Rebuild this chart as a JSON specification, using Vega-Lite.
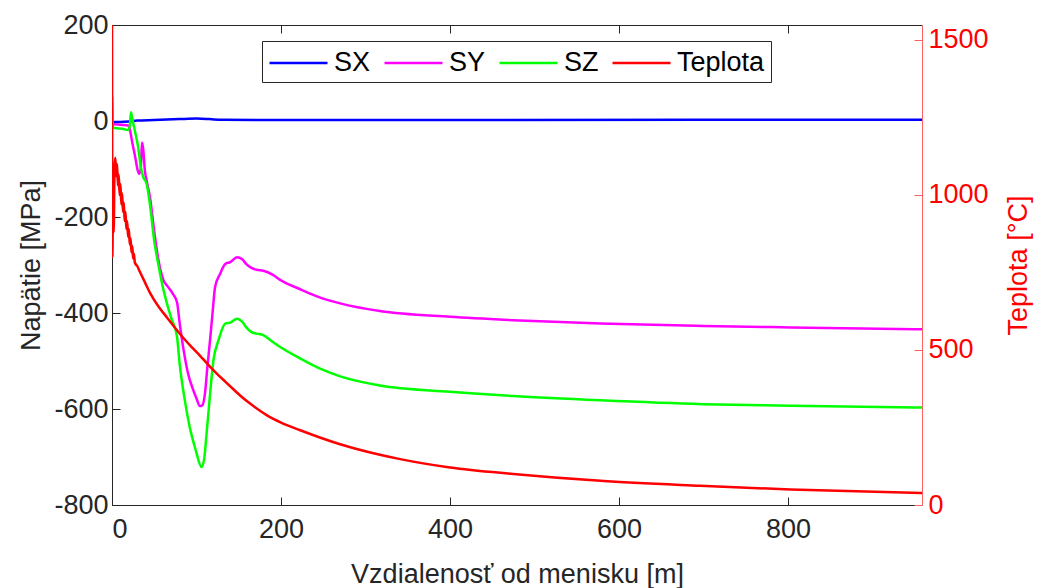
{
  "$schema": "https://vega.github.io/schema/vega-lite/v6.json",
  "width": 810,
  "height": 480,
  "autosize": {"type": "none"},
  "padding": {"left": 112, "top": 25, "right": 116, "bottom": 83},
  "background": "white",
  "config": {
    "view": {"stroke": null},
    "font": "Liberation Sans",
    "axis": {
      "labelFont": "Liberation Sans",
      "titleFont": "Liberation Sans",
      "labelFontSize": 27,
      "titleFontSize": 27,
      "titleFontWeight": "normal",
      "grid": false,
      "domainWidth": 1,
      "tickWidth": 1,
      "labelExpr": "'' + datum.value"
    },
    "legend": {
      "orient": "none",
      "legendX": 150,
      "legendY": 16,
      "direction": "horizontal",
      "columns": 4,
      "symbolType": "M-1,0H3",
      "symbolSize": 841,
      "symbolStrokeWidth": 2.5,
      "labelFont": "Liberation Sans",
      "labelFontSize": 27,
      "labelColor": "#000000",
      "labelOffset": 34,
      "columnPadding": 8,
      "padding": 6,
      "strokeColor": "#262626",
      "fillColor": "white"
    }
  },
  "datasets": {
    "stress": [
      {"s":"SX","x":0,"v":0},{"s":"SX","x":2,"v":-2},{"s":"SX","x":10,"v":-2},{"s":"SX","x":20,"v":-1},{"s":"SX","x":30,"v":1},{"s":"SX","x":50,"v":2},{"s":"SX","x":80,"v":4},{"s":"SX","x":100,"v":5},{"s":"SX","x":115,"v":4},{"s":"SX","x":130,"v":2.5},{"s":"SX","x":200,"v":2},{"s":"SX","x":400,"v":2},{"s":"SX","x":700,"v":2.5},{"s":"SX","x":959,"v":2.5},
      {"s":"SY","x":0,"v":-3},{"s":"SY","x":1,"v":-6},{"s":"SY","x":10,"v":-8},{"s":"SY","x":20,"v":-10},{"s":"SY","x":22,"v":-25},{"s":"SY","x":24,"v":-45},{"s":"SY","x":26,"v":-62},{"s":"SY","x":28,"v":-80},{"s":"SY","x":30,"v":-100},{"s":"SY","x":32,"v":-110},{"s":"SY","x":34,"v":-100},{"s":"SY","x":35.5,"v":-45},{"s":"SY","x":37,"v":-60},{"s":"SY","x":39,"v":-105},{"s":"SY","x":41,"v":-124},{"s":"SY","x":45,"v":-160},{"s":"SY","x":50,"v":-230},{"s":"SY","x":55,"v":-290},{"s":"SY","x":61,"v":-332},{"s":"SY","x":66,"v":-345},{"s":"SY","x":72,"v":-360},{"s":"SY","x":77,"v":-378},{"s":"SY","x":80,"v":-420},{"s":"SY","x":85,"v":-480},{"s":"SY","x":90,"v":-526},{"s":"SY","x":95,"v":-555},{"s":"SY","x":100,"v":-578},{"s":"SY","x":104,"v":-594},{"s":"SY","x":107,"v":-592},{"s":"SY","x":110,"v":-568},{"s":"SY","x":113,"v":-510},{"s":"SY","x":116,"v":-457},{"s":"SY","x":119,"v":-400},{"s":"SY","x":122,"v":-346},{"s":"SY","x":128,"v":-318},{"s":"SY","x":134,"v":-298},{"s":"SY","x":140,"v":-294},{"s":"SY","x":148,"v":-284},{"s":"SY","x":154,"v":-288},{"s":"SY","x":159,"v":-298},{"s":"SY","x":165,"v":-306},{"s":"SY","x":171,"v":-310},{"s":"SY","x":179,"v":-312},{"s":"SY","x":190,"v":-320},{"s":"SY","x":199,"v":-331},{"s":"SY","x":222,"v":-350},{"s":"SY","x":245,"v":-367},{"s":"SY","x":270,"v":-380},{"s":"SY","x":317,"v":-396},{"s":"SY","x":400,"v":-408},{"s":"SY","x":475,"v":-415},{"s":"SY","x":578,"v":-422},{"s":"SY","x":700,"v":-427},{"s":"SY","x":803,"v":-430},{"s":"SY","x":959,"v":-434},
      {"s":"SZ","x":0,"v":-10},{"s":"SZ","x":0.4,"v":52},{"s":"SZ","x":1,"v":-14},{"s":"SZ","x":5,"v":-15},{"s":"SZ","x":12,"v":-16},{"s":"SZ","x":19,"v":-19},{"s":"SZ","x":21,"v":-12},{"s":"SZ","x":22.5,"v":18},{"s":"SZ","x":24,"v":5},{"s":"SZ","x":27,"v":-20},{"s":"SZ","x":31,"v":-55},{"s":"SZ","x":34,"v":-95},{"s":"SZ","x":37,"v":-117},{"s":"SZ","x":41,"v":-131},{"s":"SZ","x":45,"v":-175},{"s":"SZ","x":50,"v":-250},{"s":"SZ","x":55,"v":-300},{"s":"SZ","x":60,"v":-345},{"s":"SZ","x":65,"v":-380},{"s":"SZ","x":70,"v":-410},{"s":"SZ","x":77,"v":-450},{"s":"SZ","x":80,"v":-505},{"s":"SZ","x":86,"v":-580},{"s":"SZ","x":92,"v":-638},{"s":"SZ","x":99,"v":-685},{"s":"SZ","x":106,"v":-721},{"s":"SZ","x":109,"v":-705},{"s":"SZ","x":112,"v":-650},{"s":"SZ","x":116,"v":-570},{"s":"SZ","x":120,"v":-499},{"s":"SZ","x":126,"v":-457},{"s":"SZ","x":134,"v":-422},{"s":"SZ","x":140,"v":-420},{"s":"SZ","x":148,"v":-412},{"s":"SZ","x":154,"v":-418},{"s":"SZ","x":159,"v":-430},{"s":"SZ","x":165,"v":-440},{"s":"SZ","x":171,"v":-443},{"s":"SZ","x":179,"v":-446},{"s":"SZ","x":190,"v":-460},{"s":"SZ","x":199,"v":-471},{"s":"SZ","x":222,"v":-494},{"s":"SZ","x":245,"v":-515},{"s":"SZ","x":270,"v":-532},{"s":"SZ","x":317,"v":-551},{"s":"SZ","x":400,"v":-564},{"s":"SZ","x":475,"v":-573},{"s":"SZ","x":578,"v":-582},{"s":"SZ","x":700,"v":-590},{"s":"SZ","x":803,"v":-593},{"s":"SZ","x":959,"v":-597}
    ],
    "temp": [
      {"s":"Teplota","x":0,"t":1548},{"s":"Teplota","x":0.2,"t":1200},{"s":"Teplota","x":0.5,"t":800},{"s":"Teplota","x":1.2,"t":1000},{"s":"Teplota","x":2,"t":880},{"s":"Teplota","x":3,"t":1090},{"s":"Teplota","x":4,"t":1120},{"s":"Teplota","x":5,"t":1060},{"s":"Teplota","x":6,"t":1100},{"s":"Teplota","x":7,"t":1030},{"s":"Teplota","x":8,"t":1065},{"s":"Teplota","x":9,"t":1000},{"s":"Teplota","x":10,"t":1035},{"s":"Teplota","x":11,"t":970},{"s":"Teplota","x":12,"t":1005},{"s":"Teplota","x":13,"t":945},{"s":"Teplota","x":14,"t":975},{"s":"Teplota","x":15,"t":915},{"s":"Teplota","x":16,"t":945},{"s":"Teplota","x":17,"t":890},{"s":"Teplota","x":18,"t":915},{"s":"Teplota","x":19,"t":865},{"s":"Teplota","x":20,"t":890},{"s":"Teplota","x":21,"t":840},{"s":"Teplota","x":22,"t":860},{"s":"Teplota","x":23,"t":815},{"s":"Teplota","x":24,"t":835},{"s":"Teplota","x":25,"t":795},{"s":"Teplota","x":26,"t":810},{"s":"Teplota","x":27,"t":782},{"s":"Teplota","x":30,"t":770},{"s":"Teplota","x":33,"t":752},{"s":"Teplota","x":39,"t":718},{"s":"Teplota","x":45,"t":684},{"s":"Teplota","x":55,"t":640},{"s":"Teplota","x":65,"t":605},{"s":"Teplota","x":75,"t":570},{"s":"Teplota","x":84,"t":540},{"s":"Teplota","x":94,"t":510},{"s":"Teplota","x":104,"t":482},{"s":"Teplota","x":114,"t":452},{"s":"Teplota","x":124,"t":424},{"s":"Teplota","x":134,"t":398},{"s":"Teplota","x":143,"t":375},{"s":"Teplota","x":153,"t":350},{"s":"Teplota","x":163,"t":328},{"s":"Teplota","x":173,"t":308},{"s":"Teplota","x":183,"t":290},{"s":"Teplota","x":200,"t":266},{"s":"Teplota","x":222,"t":242},{"s":"Teplota","x":270,"t":196},{"s":"Teplota","x":317,"t":162},{"s":"Teplota","x":341,"t":148},{"s":"Teplota","x":400,"t":121},{"s":"Teplota","x":475,"t":100},{"s":"Teplota","x":578,"t":78},{"s":"Teplota","x":696,"t":62},{"s":"Teplota","x":803,"t":50},{"s":"Teplota","x":959,"t":39}
    ]
  },
  "layer": [
    {
      "data": {"name": "stress"},
      "mark": {"type": "line", "strokeWidth": 2.5, "clip": true, "interpolate": "monotone"},
      "encoding": {
        "x": {
          "field": "x", "type": "quantitative",
          "scale": {"domain": [0, 958.6], "nice": false, "zero": false},
          "axis": {
            "orient": "bottom",
            "values": [0, 200, 400, 600, 800],
            "tickSize": -8,
            "labelPadding": 19,
            "domainColor": "#262626", "tickColor": "#262626", "labelColor": "#262626",
            "title": "Vzdialenosť od menisku [m]", "titleColor": "#262626", "titlePadding": 19
          }
        },
        "y": {
          "field": "v", "type": "quantitative",
          "scale": {"domain": [-800, 200], "nice": false, "zero": false},
          "axis": {
            "values": [-800, -600, -400, -200, 0, 200],
            "tickSize": -8,
            "labelPadding": 12,
            "domainColor": "#262626", "tickColor": "#262626", "labelColor": "#262626",
            "title": "Napätie [MPa]", "titleColor": "#262626", "titlePadding": 8
          }
        },
        "color": {
          "field": "s", "type": "nominal",
          "scale": {"domain": ["SX", "SY", "SZ", "Teplota"], "range": ["#0000ff", "#ff00ff", "#00ff00", "#ff0000"]},
          "legend": {"title": null}
        }
      }
    },
    {
      "data": {"name": "temp"},
      "mark": {"type": "line", "strokeWidth": 2.5, "clip": true, "interpolate": "monotone"},
      "encoding": {
        "x": {
          "field": "x", "type": "quantitative",
          "axis": {
            "orient": "top",
            "values": [0, 200, 400, 600, 800],
            "tickSize": -8,
            "labels": false,
            "title": null,
            "domainColor": "#262626", "tickColor": "#262626"
          }
        },
        "y": {
          "field": "t", "type": "quantitative",
          "scale": {"domain": [0, 1548], "nice": false, "zero": false},
          "axis": {
            "orient": "right",
            "values": [0, 500, 1000, 1500],
            "tickSize": -8,
            "labelPadding": 14,
            "domainColor": "#ff6060", "tickColor": "#ff6060", "labelColor": "#ff0000",
            "title": "Teplota [°C]", "titleColor": "#ff0000", "titlePadding": 17, "titleAngle": 270, "titleBaseline": "top"
          }
        },
        "color": {"field": "s", "type": "nominal", "legend": {"title": null}}
      }
    }
  ],
  "resolve": {"scale": {"y": "independent"}, "axis": {"x": "independent"}}
}
